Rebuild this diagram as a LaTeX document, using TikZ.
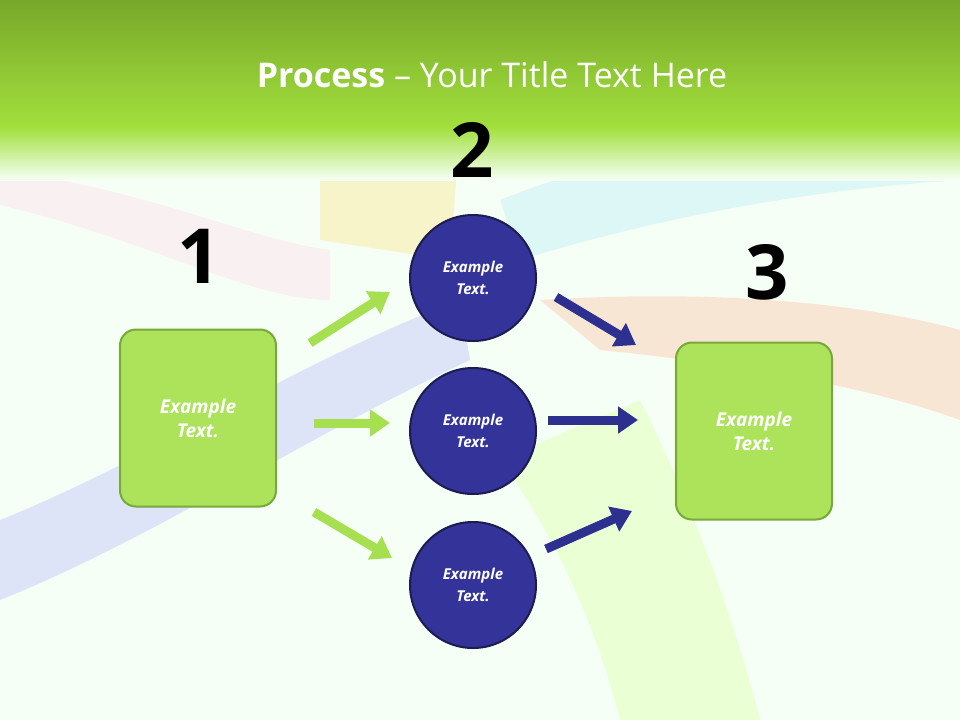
\documentclass[tikz,border=0pt]{standalone}
\usepackage{fontspec}
\setmainfont{Open Sans}
\usetikzlibrary{arrows.meta}
\definecolor{hdrA}{HTML}{78A82A}
\definecolor{hdrB}{HTML}{A2E03C}
\definecolor{boxfill}{HTML}{ACE35A}
\definecolor{boxline}{HTML}{78A83A}
\definecolor{circfill}{HTML}{333399}
\definecolor{circline}{HTML}{1C1C50}
\definecolor{garrow}{HTML}{A6E050}
\definecolor{barrow}{HTML}{2E3090}
\begin{document}
\begin{tikzpicture}[x=1pt,y=-1pt,
  gbox/.style={draw=boxline,line width=2pt,fill=boxfill,rounded corners=16pt,minimum width=156pt,minimum height=177pt,text=white,font=\bfseries\itshape\fontsize{19}{24}\selectfont,align=center},
  circ/.style={circle,draw=circline,line width=2pt,fill=circfill,minimum size=126pt,text=white,font=\bfseries\itshape\fontsize{15}{22}\selectfont,align=center},
  num/.style={font=\bfseries\fontsize{76}{76}\selectfont,text=black},
  garr/.style={draw=garrow,line width=9pt,-{Triangle[length=20pt,width=26pt]}},
  barr/.style={draw=barrow,line width=9pt,-{Triangle[length=20pt,width=26pt]}}]
\useasboundingbox (0,0) rectangle (960,720);
\fill[white!96!green] (0,0) rectangle (960,720);
% faint background bands
\begin{scope}[opacity=0.35]
\fill[pink!80!magenta!40] (0,205) .. controls (150,240) and (250,300) .. (330,300) -- (330,250) .. controls (250,240) and (150,190) .. (0,170) -- cycle;
\fill[blue!30] (0,600) .. controls (150,540) and (300,440) .. (470,360) -- (460,300) .. controls (300,360) and (150,460) .. (0,520) -- cycle;
\fill[yellow!60!orange!50] (320,130) -- (460,130) -- (450,260) -- (320,240) -- cycle;
\fill[cyan!30] (500,200) .. controls (650,140) and (800,130) .. (960,120) -- (960,180) .. controls (800,190) and (650,220) .. (520,260) -- cycle;
\fill[red!40!orange!40] (540,300) .. controls (700,290) and (850,300) .. (960,330) -- (960,420) .. controls (850,380) and (700,360) .. (600,350) -- cycle;
\fill[green!40!yellow!40] (500,460) .. controls (560,540) and (600,640) .. (620,720) -- (760,720) .. controls (730,600) and (680,480) .. (640,400) -- cycle;
\end{scope}
% header
\fill[top color=hdrA,bottom color=hdrB] (0,0) rectangle (960,128);
\fill[top color=hdrB,bottom color=white!96!green] (0,127) rectangle (960,180);
\node[text=white,font=\fontsize{34}{40}\selectfont] (title) at (492,75) {\textbf{Process} -- Your Title Text Here};
% nodes
\node[gbox] (b1) at (198,418) {Example\\Text.};
\node[gbox] (b3) at (754,431) {Example\\Text.};
\node[circ] (c1) at (473,278) {Example\\Text.};
\node[circ] (c2) at (473,431) {Example\\Text.};
\node[circ] (c3) at (473,585) {Example\\Text.};
\node[num] (n1) at (199,256) {1};
\node[num] (n2) at (472,150) {2};
\node[num] (n3) at (767,272) {3};
% arrows
\coordinate (g1s) at (310,343); \coordinate (g1e) at (390,292);
\coordinate (g2s) at (314,423); \coordinate (g2e) at (390,423);
\coordinate (g3s) at (314,512); \coordinate (g3e) at (392,558);
\coordinate (d1s) at (556,297); \coordinate (d1e) at (636,345);
\coordinate (d2s) at (548,420); \coordinate (d2e) at (638,420);
\coordinate (d3s) at (546,549); \coordinate (d3e) at (632,511);
\draw[garr] (g1s) -- (g1e);
\draw[garr] (g2s) -- (g2e);
\draw[garr] (g3s) -- (g3e);
\draw[barr] (d1s) -- (d1e);
\draw[barr] (d2s) -- (d2e);
\draw[barr] (d3s) -- (d3e);
\end{tikzpicture}
\end{document}
